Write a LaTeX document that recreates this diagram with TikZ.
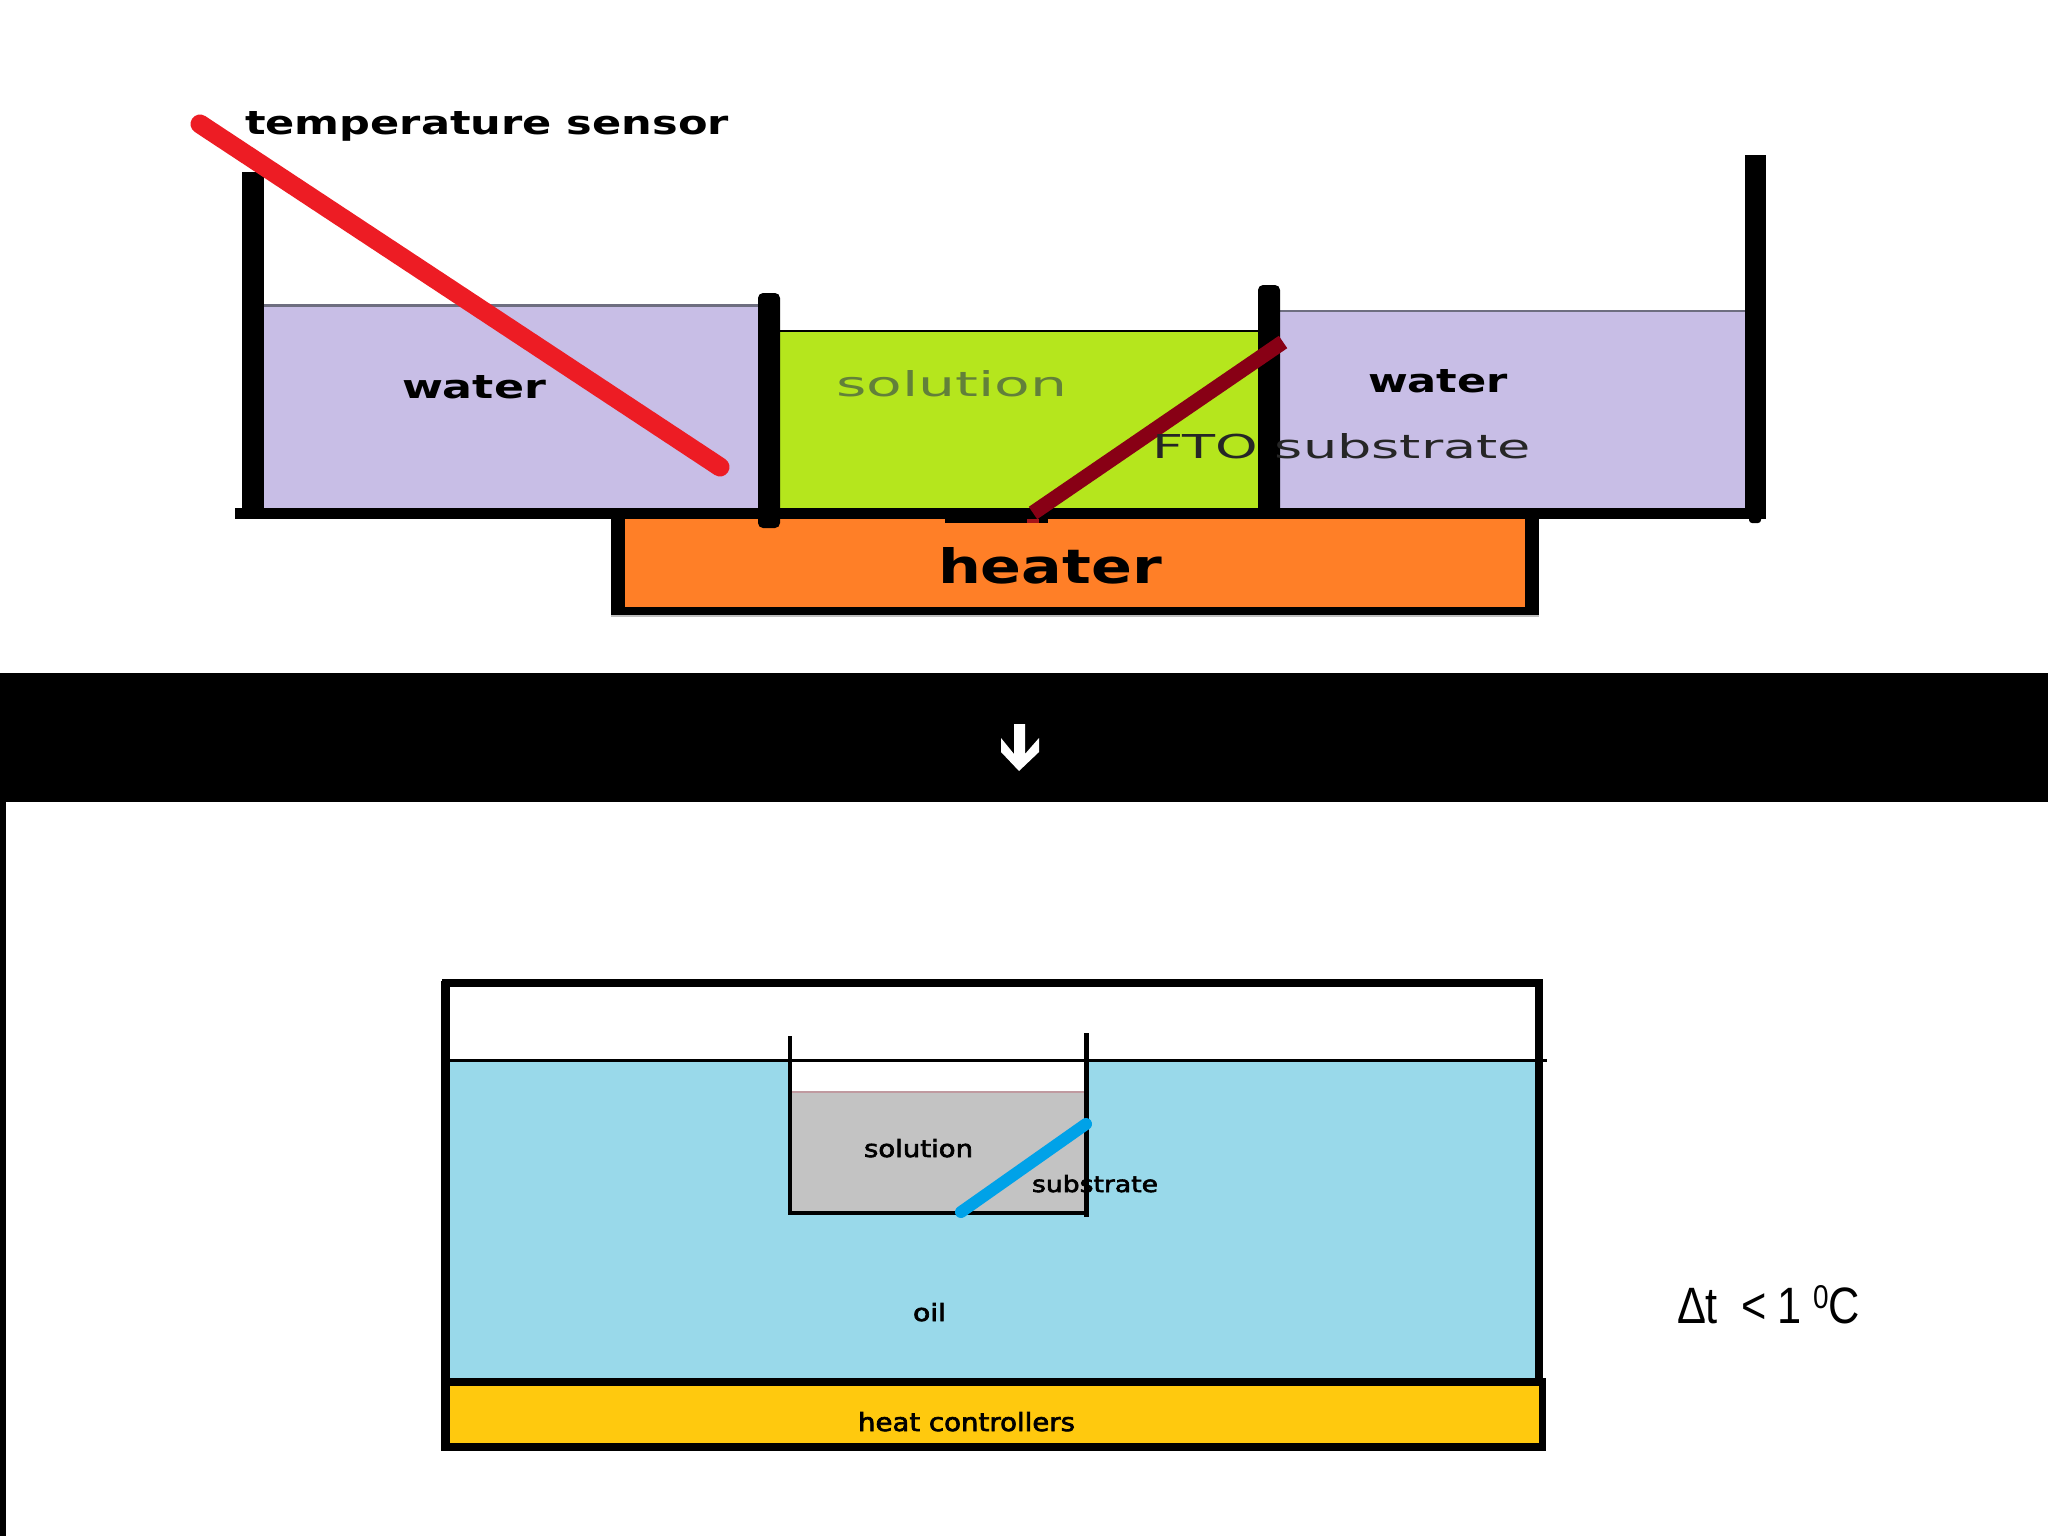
\documentclass[tikz,border=0pt]{standalone}
\usepackage{fontspec}
\usepackage{graphicx}
\setmainfont{DejaVu Sans}
\newfontfamily\arialf{Liberation Sans}
\newfontfamily\semif[FakeBold=2.5]{DejaVu Sans}
\newcommand{\fitbox}[3]{\resizebox{\dimexpr #1pt/2\relax}{\dimexpr #2pt/2\relax}{#3}}
\definecolor{waterc}{HTML}{C8BEE6}
\definecolor{solc}{HTML}{B5E61D}
\definecolor{heatc}{HTML}{FF7F27}
\definecolor{oilc}{HTML}{99D9EA}
\definecolor{grayc}{HTML}{C3C3C3}
\definecolor{ctrlc}{HTML}{FFC90E}
\definecolor{redc}{HTML}{ED1C24}
\definecolor{brownc}{HTML}{880015}
\definecolor{bluec}{HTML}{00A2E8}
\definecolor{pinkc}{HTML}{C09AA0}
\definecolor{surfc}{HTML}{6E6E80}
\definecolor{faintc}{HTML}{62803A}
\tikzset{
  label/.style={inner sep=0pt,outer sep=0pt,anchor=base west},
  probe/.style={line cap=round}
}
\begin{document}
\begin{tikzpicture}[x=0.5pt,y=-0.5pt]
\useasboundingbox (0,0) rectangle (2048,1536);
\fill[white] (0,0) rectangle (2048,1536);
% upper figure: liquids
\fill[waterc] (264,306) rectangle (760,510);
\fill[solc] (779,331) rectangle (1260,510);
\fill[waterc] (1278,311) rectangle (1746,510);
\draw[surfc,line width=1.5pt] (264,305.5) -- (760,305.5);
\draw[black,line width=1pt] (779,330.5) -- (1260,330.5);
\draw[surfc,line width=1pt] (1278,310.5) -- (1746,310.5);
% heater
\fill[black] (611,512) rectangle (1539,615);
\fill[heatc] (625,519) rectangle (1525,607);
\fill[gray!50] (611,615) rectangle (1539,617);
% base and walls
\fill[black] (235,508) rectangle (1766,519);
\fill[black] (945,515) rectangle (1048,523);
\fill[black] (242,172) rectangle (264,516);
\fill[black] (1745,155) rectangle (1766,519);
\fill[black,rounded corners=1.5pt] (1749,515) rectangle (1761,523);
\fill[black,rounded corners=2.5pt] (758,293) rectangle (780,528);
\fill[black,rounded corners=2.5pt] (1258,285) rectangle (1280,515);
% probes
\draw[redc,line width=9.5pt,probe] (200,124) -- (720,467);
\draw[brownc,line width=7.5pt] (1033,513) -- (1283,342);
\fill[redc!70!black] (1027,519) rectangle (1039,523);
% band
\fill[black] (0,673) rectangle (2048,802);
\fill[black] (0,802) rectangle (6,1536);
\fill[white] (1014,724) -- (1025,724) -- (1025,754) -- (1039,738) -- (1039,752) -- (1019,771) -- (1001,752) -- (1001,738) -- (1014,754) -- cycle;
% lower figure
\fill[oilc] (446,1060) rectangle (1538,1382);
\fill[white] (791,1061) rectangle (1086,1092);
\fill[grayc] (790,1092) rectangle (1086,1212);
\draw[pinkc,line width=1pt] (791,1092) -- (1085,1092);
\fill[ctrlc] (449,1384) rectangle (1540,1446);
\draw[black,line width=4.2pt] (445,1382) -- (1546,1382);
\draw[black,line width=4pt] (442,983) -- (1543,983);
\draw[black,line width=4.2pt] (445.5,981) -- (445.5,1451);
\draw[black,line width=4pt] (1539,981) -- (1539,1382);
\draw[black,line width=4pt] (441,1447) -- (1546,1447);
\draw[black,line width=3.5pt] (1542.5,1380) -- (1542.5,1451);
\draw[black,line width=1.8pt] (445,1060.5) -- (1547,1060.5);
\draw[black,line width=2pt] (790,1036) -- (790,1214);
\draw[black,line width=2.2pt] (1086.5,1033) -- (1086.5,1217);
\draw[black,line width=2pt] (788,1212.5) -- (1088,1212.5);
\draw[bluec,line width=6pt,probe] (961,1212) -- (1086,1124);
% labels
\node[label] (tsensor) at (245,134) {\fitbox{484}{23}{\bfseries temperature sensor}};
\node[label] (waterl) at (402,398) {\fitbox{144}{23}{\bfseries water}};
\node[label] (waterr) at (1368,392) {\fitbox{140}{23}{\bfseries water}};
\node[label,text=faintc] (solup) at (836,396) {\fitbox{231}{26}{solution}};
\node[label,text=black!85] (fto) at (1152,458) {\fitbox{379}{25}{FTO substrate}};
\node[label] (heater) at (938,583) {\fitbox{224}{36}{\bfseries heater}};
\node[label] (sollow) at (864,1157) {\fitbox{109}{18}{\semif solution}};
\node[label] (subst) at (1032,1192) {\fitbox{126}{17}{\semif substrate}};
\node[label] (oil) at (913,1321) {\fitbox{33}{18}{\semif oil}};
\node[label] (ctrl) at (858,1431) {\fitbox{217}{19}{\semif heat controllers}};
\node[label] (delta) at (1677,1323) {\fitbox{183}{38}{\arialf\fontsize{25.6}{30}\selectfont Δt\hspace{14pt}<\hspace{6pt}1\hspace{7pt}\raisebox{7.5pt}{\fontsize{16.5}{20}\selectfont 0}C}};
\end{tikzpicture}
\end{document}
